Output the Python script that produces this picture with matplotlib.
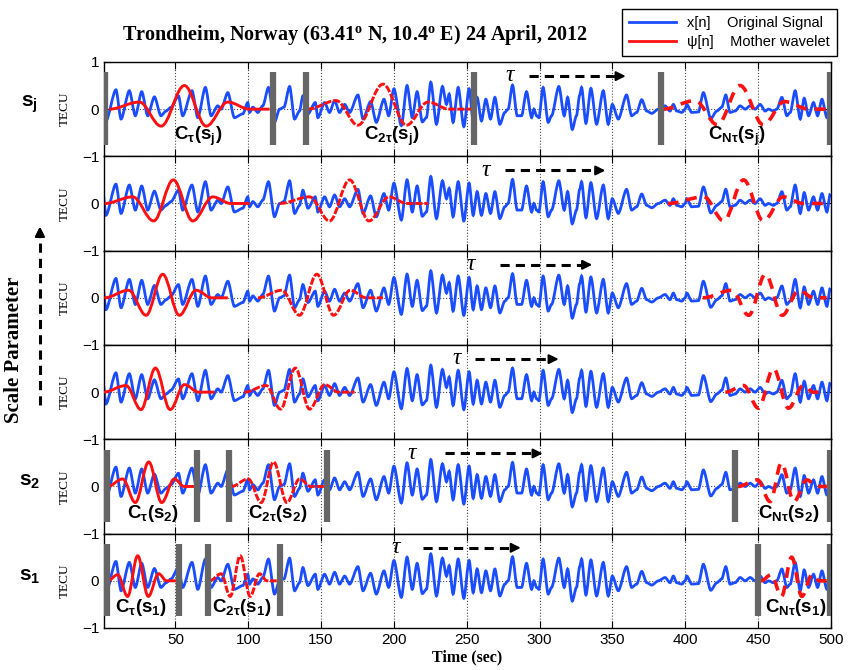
import numpy as np
import matplotlib.pyplot as plt
from matplotlib.path import Path
from matplotlib.patches import PathPatch
from matplotlib.lines import Line2D

# signal x[n] (TECU) (time in sec)
sig_t = [0.5, 2.3, 9.2, 12.7, 18.4, 22.5, 26.9, 31, 35.6, 40.1, 43.6, 47, 52.1, 55, 61.4,
         65.4, 70.6, 74.5, 79.1, 81.4, 86, 90.5, 96.3, 99.7, 100.9, 103.2, 106.6, 110,
         113.9, 118, 121.5, 124.5, 128.4, 131.8, 135.2, 137.5, 141, 146, 147.8, 152.4,
         155.8, 159.3, 162.7, 166.2, 169.6, 175.3, 178.8, 184, 187.9, 193.2, 196.4, 200,
         205.1, 209, 212.6, 215.9, 219.5, 222.3, 225.3, 229.2, 233.3, 236.1, 237.9, 240.6,
         244.1, 248, 251.6, 254.4, 257.1, 260.1, 263.1, 266.3, 269.3, 272.7, 276.1, 278.4,
         281.4, 284.6, 287.6, 291, 294.5, 296.1, 297.9, 299.5, 302.4, 305.9, 308.2, 313.2,
         316.9, 319.2, 322.4, 325.3, 327.5, 328.8, 331.8, 335.2, 339.1, 343.7, 347.1, 349.9,
         354, 359.7, 363.2, 366.6, 370.1, 373.5, 377, 381.5, 386.1, 389.5, 391.8, 394.1,
         397.6, 399.9, 401, 404.4, 409, 412.4, 417.5, 421.6, 425, 427.8, 430.7, 434.2,
         437.6, 441.1, 444.5, 447.9, 451.4, 454.8, 457.1, 460.5, 462.8, 466.3, 469.7, 472,
         475.4, 478.9, 481.6, 484.6, 488, 490.8, 493.8, 497.2, 499.5]
sig_v = [0.18, -0.25, 0.41, -0.21, 0.39, -0.14, 0.37, -0.14, 0.26, -0.14, -0.04, 0.04, 0.28,
         -0.14, 0.39, -0.18, 0.46, -0.14, 0.07, 0.0, 0.35, -0.18, -0.1, 0.14, -0.07, 0.04,
         -0.07, 0.07, 0.46, -0.28, 0.0, 0.04, 0.48, -0.21, -0.04, 0.28, -0.1, 0.14, -0.18,
         0.14, -0.07, 0.18, -0.07, 0.1, -0.07, 0.3, -0.21, 0.16, -0.28, 0.21, -0.14, 0.43,
         -0.35, 0.5, -0.18, 0.37, -0.27, -0.18, 0.57, -0.32, 0.48, 0.1, 0.32, -0.28, 0.46,
         -0.37, 0.43, -0.25, 0.25, -0.25, 0.21, -0.21, 0.25, -0.32, -0.07, 0.0, 0.51, -0.14,
         -0.14, 0.37, -0.18, 0.0, -0.14, -0.18, 0.46, -0.28, -0.14, 0.48, -0.14, 0.25, -0.43,
         -0.14, 0.3, 0.46, -0.3, 0.44, -0.32, 0.39, -0.32, 0.1, -0.21, 0.3, -0.14, -0.07,
         0.2, -0.04, -0.09, 0.0, 0.07, -0.04, 0.1, -0.04, -0.07, 0.0, 0.1, -0.07, -0.06,
         0.35, -0.2, -0.04, 0.04, 0.3, -0.07, -0.04, 0.07, 0.0, 0.07, 0.0, 0.1, -0.04, 0.0,
         -0.04, 0.0, 0.25, -0.14, -0.07, 0.39, -0.21, 0.23, -0.14, 0.14, -0.14, 0.21, -0.18,
         0.21]

# mother wavelet psi[n] at three shifts, one list per scale (turning points: time, value)
psi_sj = [[(4.6, 0), (25.3, 0.15), (40.2, -0.36), (56.2, 0.5), (71.1, -0.36), (86, 0.15), (100.9, 0), (114.6, 0)],
          [(140.6, 0), (160.4, 0.18), (175.3, -0.34), (192.5, 0.53), (208.6, -0.34), (223.4, 0.15), (238, 0), (254, 0)],
          [(384.5, 0), (406.7, 0.18), (422, -0.33), (437.6, 0.5), (453.6, -0.33), (468, 0.16), (485, 0), (499, 0)]]
psi_s5 = [[(1.5, 0), (20.7, 0.14), (35.1, -0.37), (48.6, 0.5), (61.9, -0.37), (75.7, 0.14), (88, 0), (100.9, 0)],
          [(121.5, 0), (142.1, 0.14), (155.8, -0.37), (169.6, 0.5), (182.9, -0.37), (196.6, 0.14), (209, 0), (223.4, 0)],
          [(388, 0), (412.8, 0.14), (426.4, -0.37), (440, 0.5), (453.6, -0.37), (467.2, 0.14), (481, 0), (495, 0)]]
psi_s4 = [[(1.2, 0), (17.9, 0.16), (29.9, -0.37), (41.3, 0.5), (52.7, -0.37), (64.2, 0.16), (75, 0), (86, 0)],
          [(106.6, 0), (123, 0.16), (135.2, -0.37), (147.1, 0.5), (158.6, -0.37), (170, 0.16), (181, 0), (192.5, 0)],
          [(412, 0), (432, 0.16), (443.5, -0.37), (455, 0.5), (466.5, -0.37), (478, 0.16), (488, 0), (497, 0)]]
psi_s3 = [[(0.5, 0), (16.1, 0.14), (26.4, -0.37), (36.3, 0.51), (46.4, -0.37), (56.2, 0.16), (66, 0), (76.8, 0)],
          [(97.4, 0), (112.3, 0.14), (122.2, -0.36), (132.3, 0.51), (142.1, -0.36), (152.5, 0.16), (162, 0), (173, 0)],
          [(427.5, 0), (440, 0.14), (450.2, -0.34), (460.5, 0.5), (470.8, -0.34), (481, 0.14), (488, 0), (494, 0)]]
psi_s2 = [[(3.5, 0), (13.8, 0.16), (22.5, -0.34), (31.7, 0.52), (40.6, -0.34), (49.3, 0.16), (56, 0), (63, 0)],
          [(88.3, 0), (100, 0.16), (108.9, -0.34), (117.4, 0.52), (126.5, -0.34), (135.3, 0.16), (143, 0), (152.4, 0)],
          [(436, 0), (449.5, 0.14), (458.2, -0.32), (466, 0.5), (474.5, -0.32), (483.5, 0.14), (490, 0), (498.3, 0)]]
psi_s1 = [[(3.5, 0), (10.4, 0.13), (17.2, -0.33), (24.1, 0.53), (31.4, -0.33), (38.5, 0.15), (44, 0), (50.5, 0)],
          [(73.4, 0), (81.4, 0.15), (87.6, -0.33), (94.5, 0.53), (101.3, -0.33), (107.7, 0.15), (113, 0), (119.6, 0)],
          [(452, 0), (459, 0.13), (466, -0.33), (473, 0.5), (480, -0.33), (487, 0.13), (492, 0), (497, 0)]]
panel_psi = [psi_sj, psi_s5, psi_s4, psi_s3, psi_s2, psi_s1]

# window edges (grey bars)
bars_sj = [1.9, 116.7, 139.4, 254.8, 383.3, 499.5]
bars_s2 = [2.8, 64.9, 86.7, 154, 434.2, 499.5]
bars_s1 = [2.8, 52.7, 72.2, 121.5, 450.2, 499.5]
panel_bars = [bars_sj, None, None, None, bars_s2, bars_s1]

# tau shift arrows
tau_t = [280.2, 263.8, 253.4, 243.8, 212.9, 201.9]
arrow_start = [293, 276, 272.7, 255.5, 235, 220]
arrow_end = [352, 338, 329, 306, 295, 280]

scale_names = ['j', None, None, None, '2', '1']
coef_t = [[65.8, 198.6, 435.5], None, None, None, [34.9, 120, 471], [26.7, 95.2, 476]]
coef_k = [r'\tau', r'2\tau', r'N\tau']

plt.rcParams['font.family'] = 'Liberation Sans'
plt.rcParams['mathtext.fontset'] = 'custom'
plt.rcParams['mathtext.bf'] = 'Liberation Sans:bold'
plt.rcParams['mathtext.rm'] = 'Liberation Serif:bold'
plt.rcParams['mathtext.it'] = 'Liberation Serif:italic'

BLUE = '#1a4dff'
RED = '#ff1010'
GREY = '#666666'


def draw_wave(ax, pts, k=0.36, **kw):
    # smooth curve through the turning points (horizontal tangent at each one)
    verts = [pts[0]]
    codes = [Path.MOVETO]
    for (t0, v0), (t1, v1) in zip(pts[:-1], pts[1:]):
        d = (t1 - t0) * k
        verts += [(t0 + d, v0), (t1 - d, v1), (t1, v1)]
        codes += [Path.CURVE4] * 3
    ax.add_patch(PathPatch(Path(verts, codes), fill=False, **kw))


fig, axes = plt.subplots(6, 1, figsize=(8.49, 6.70), dpi=100, sharex=True)
fig.subplots_adjust(left=0.1225, right=0.9788, top=0.9075, bottom=0.0627, hspace=0)

styles = [dict(ls='-', lw=2.1), dict(ls=(0, (2.5, 0.6)), lw=2.1), dict(ls=(0, (3, 2.2)), lw=2.6)]

for i, ax in enumerate(axes):
    draw_wave(ax, list(zip(sig_t, sig_v)), k=0.28, edgecolor=BLUE, lw=2.0, zorder=2)
    for pts, st in zip(panel_psi[i], styles):
        draw_wave(ax, pts, edgecolor=RED, zorder=3, **st)
    if panel_bars[i]:
        ax.vlines(panel_bars[i], -0.75, 0.78, color=GREY, lw=4.5, zorder=4)

    # tau and dashed arrow
    ax.text(tau_t[i], 0.72, r'$\tau$', fontsize=17, ha='center', va='center')
    ax.plot([arrow_start[i], arrow_end[i]], [0.7, 0.7], color='k', lw=2.2, ls=(0, (3, 2)))
    ax.annotate('', xy=(arrow_end[i] + 9, 0.7), xytext=(arrow_end[i] - 1, 0.7),
                arrowprops=dict(arrowstyle='-|>', color='k', lw=1.5, mutation_scale=14))

    if coef_t[i]:
        s = scale_names[i]
        for tc, k in zip(coef_t[i], coef_k):
            ax.text(tc, -0.57, r'$\mathbf{C_{%s}(s_{%s})}$' % (k, s), fontsize=13.5,
                    ha='center', va='center', zorder=5)
        ax.text(-0.102, 0.55, r'$\mathbf{s_{%s}}$' % s, fontsize=15, ha='center',
                va='center', transform=ax.transAxes)

    ax.set_xlim(1, 500)
    ax.set_ylim(-1, 1)
    ax.set_yticks([-1, 0, 1])
    ax.set_yticklabels(['\u22121', '0', '1' if i == 0 else ''])
    ax.set_xticks(np.arange(50, 501, 50))
    ax.grid(True, ls=':', color='k', lw=0.8, alpha=0.7)
    ax.tick_params(direction='in', top=True, right=True, labelsize=11, length=5)
    ax.set_ylabel('TECU', family='Liberation Serif', fontsize=9.5, labelpad=8)
    for sp in ax.spines.values():
        sp.set_linewidth(1.0)

axes[-1].set_xlabel('Time (sec)', family='Liberation Serif', fontweight='bold', fontsize=11.5, labelpad=2)

fig.text(0.418, 0.948, 'Trondheim, Norway (63.41$^{\\mathrm{o}}$ N, 10.4$^{\\mathrm{o}}$ E) 24 April, 2012',
         family='Liberation Serif', fontweight='bold', fontsize=14.5, ha='center', va='center')

handles = [Line2D([], [], color=BLUE, lw=2), Line2D([], [], color=RED, lw=2)]
fig.legend(handles, ['x[n]    Original Signal', '\u03c8[n]    Mother wavelet'],
           loc='upper right', bbox_to_anchor=(0.994, 0.997), fancybox=False,
           edgecolor='k', framealpha=1, fontsize=10.5, handlelength=3.2,
           borderpad=0.45, labelspacing=0.35)

# scale parameter arrow on the left
fig.text(0.016, 0.478, 'Scale Parameter', rotation=90, family='Liberation Serif',
         fontweight='bold', fontsize=15, ha='center', va='center')
fig.add_artist(Line2D([0.047, 0.047], [1 - 405 / 670, 1 - 238 / 670], color='k', lw=2.2,
                      ls=(0, (3, 2)), transform=fig.transFigure))
fig.add_artist(plt.annotate('', xy=(0.047, 1 - 224 / 670), xytext=(0.047, 1 - 240 / 670),
                            xycoords='figure fraction',
                            arrowprops=dict(arrowstyle='-|>', color='k', lw=1.5, mutation_scale=14)))

fig.savefig('out.png', dpi=100)
